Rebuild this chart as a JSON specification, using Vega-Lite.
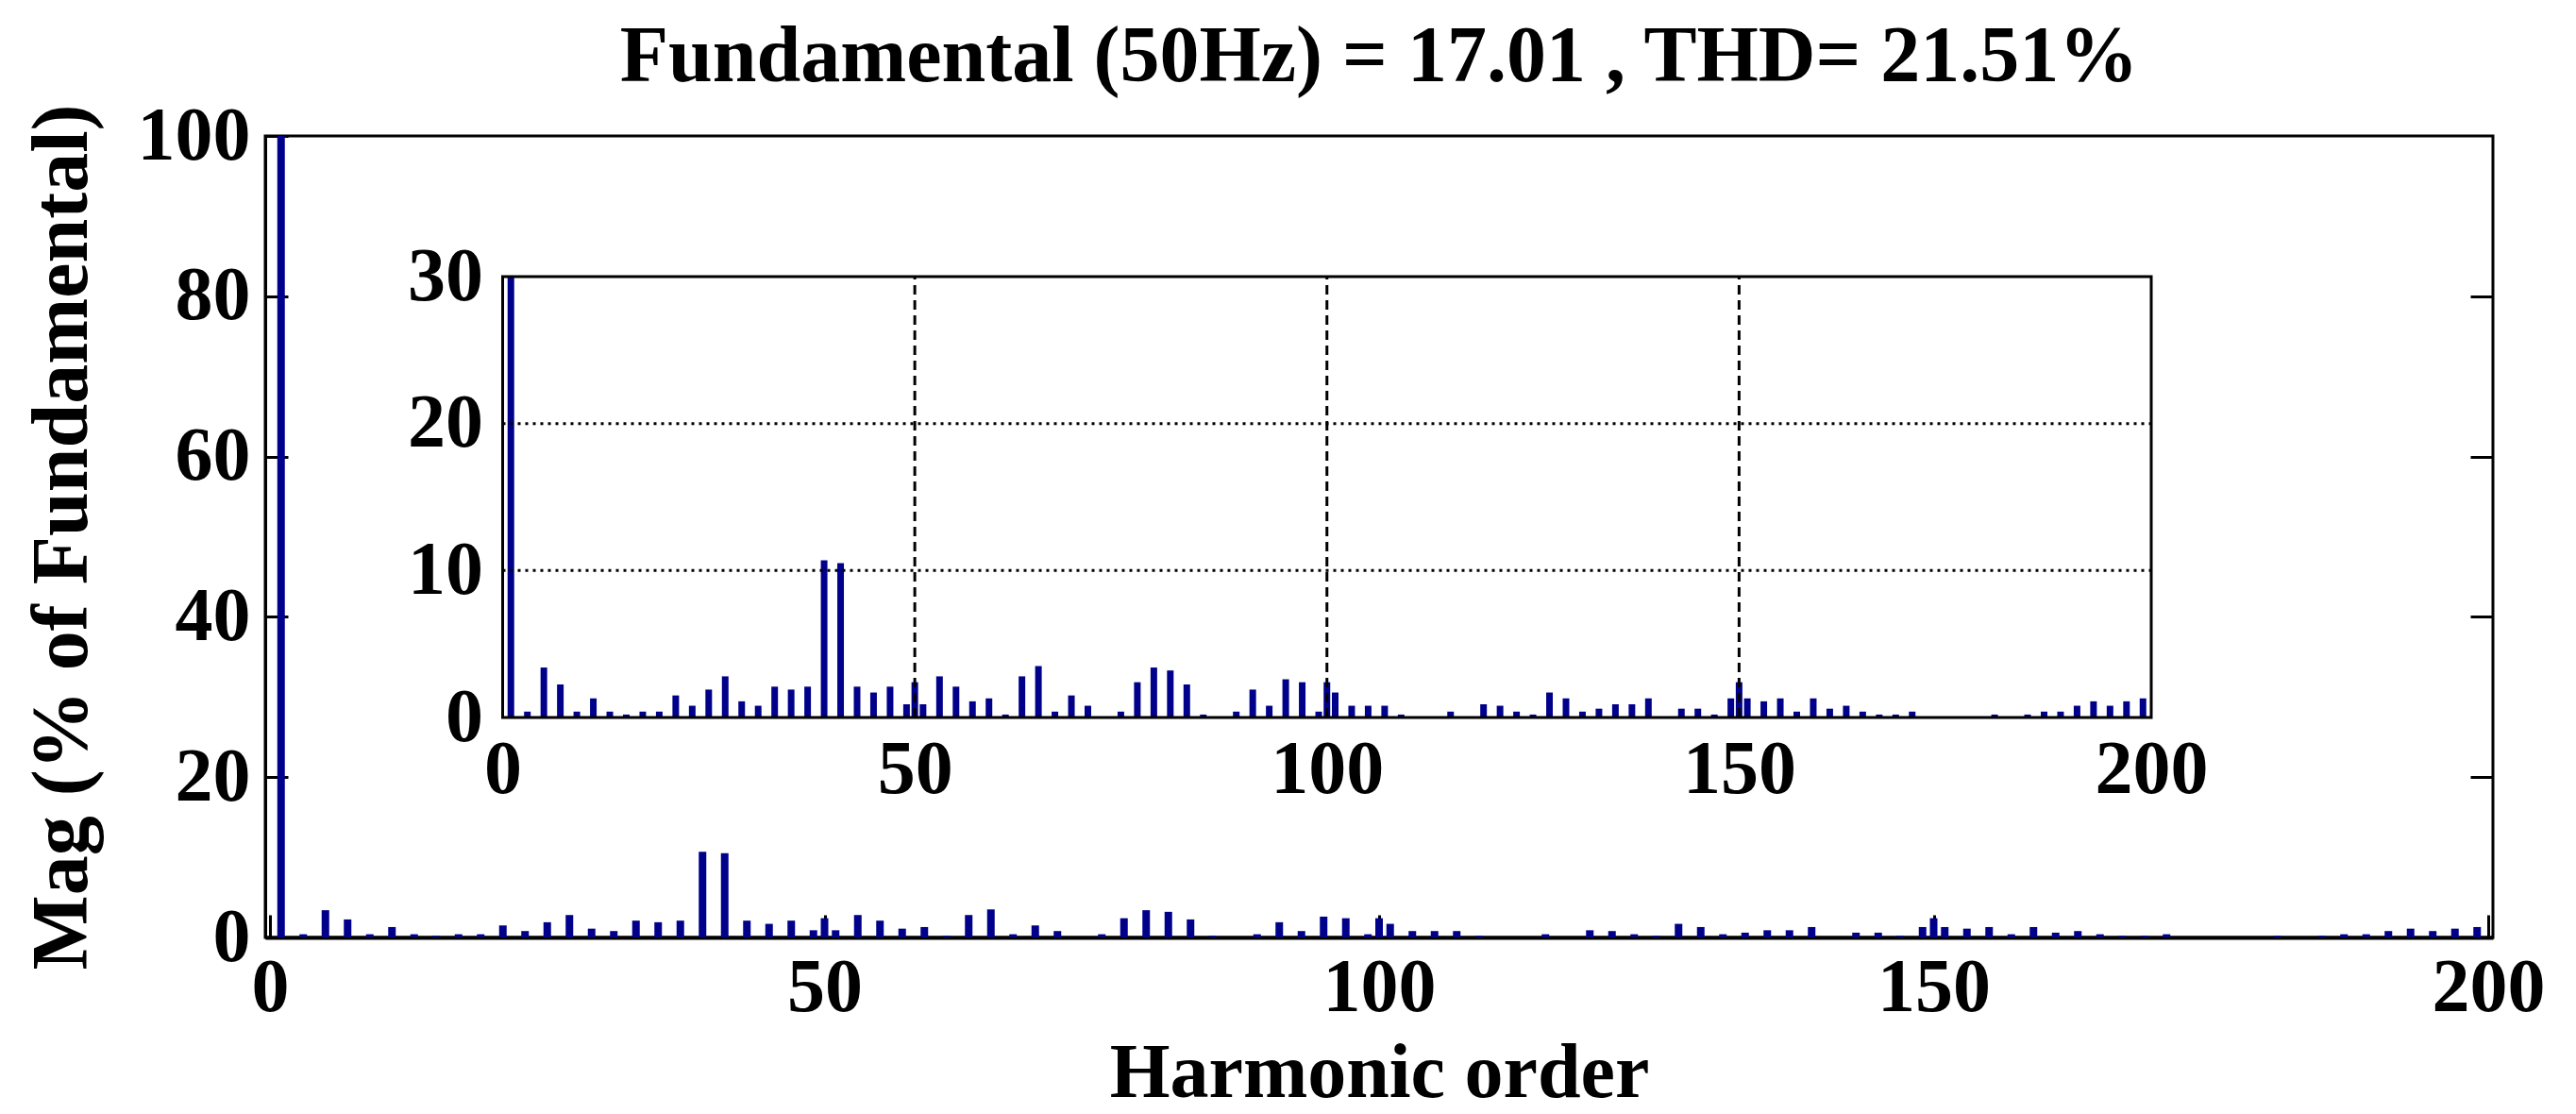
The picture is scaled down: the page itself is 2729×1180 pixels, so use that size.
{
  "$schema": "https://vega.github.io/schema/vega-lite/v6.json",
  "width": 2360,
  "height": 849,
  "autosize": "none",
  "padding": {"left": 281, "top": 144, "right": 88, "bottom": 187},
  "background": "white",
  "title": {"text": "Fundamental (50Hz) = 17.01 , THD= 21.51%", "font": "Liberation Serif", "fontSize": 84, "fontWeight": "bold", "color": "black", "anchor": "middle", "frame": "group", "baseline": "alphabetic", "offset": -66},
  "config": {"view": {"stroke": "black", "strokeWidth": 3}},
  "datasets": {
    "harm": [
      {"h": 1, "mag": 100}, {"h": 3, "mag": 0.4}, {"h": 5, "mag": 3.4}, {"h": 7, "mag": 2.25}, {"h": 9, "mag": 0.4},
      {"h": 11, "mag": 1.3}, {"h": 13, "mag": 0.4}, {"h": 15, "mag": 0.2}, {"h": 17, "mag": 0.4}, {"h": 19, "mag": 0.4},
      {"h": 21, "mag": 1.5}, {"h": 23, "mag": 0.8}, {"h": 25, "mag": 1.9}, {"h": 27, "mag": 2.8}, {"h": 29, "mag": 1.1},
      {"h": 31, "mag": 0.8}, {"h": 33, "mag": 2.1}, {"h": 35, "mag": 1.9}, {"h": 37, "mag": 2.1}, {"h": 39, "mag": 10.7},
      {"h": 41, "mag": 10.5}, {"h": 43, "mag": 2.1}, {"h": 45, "mag": 1.7}, {"h": 47, "mag": 2.1}, {"h": 49, "mag": 0.9},
      {"h": 50, "mag": 2.4}, {"h": 51, "mag": 0.9}, {"h": 53, "mag": 2.8}, {"h": 55, "mag": 2.1}, {"h": 57, "mag": 1.1},
      {"h": 59, "mag": 1.3}, {"h": 61, "mag": 0.2}, {"h": 63, "mag": 2.8}, {"h": 65, "mag": 3.5}, {"h": 67, "mag": 0.4},
      {"h": 69, "mag": 1.5}, {"h": 71, "mag": 0.8}, {"h": 75, "mag": 0.4}, {"h": 77, "mag": 2.4}, {"h": 79, "mag": 3.4},
      {"h": 81, "mag": 3.2}, {"h": 83, "mag": 2.25}, {"h": 85, "mag": 0.2}, {"h": 89, "mag": 0.4}, {"h": 91, "mag": 1.9},
      {"h": 93, "mag": 0.8}, {"h": 95, "mag": 2.6}, {"h": 97, "mag": 2.4}, {"h": 99, "mag": 0.4}, {"h": 100, "mag": 2.4},
      {"h": 101, "mag": 1.7}, {"h": 103, "mag": 0.8}, {"h": 105, "mag": 0.8}, {"h": 107, "mag": 0.8}, {"h": 109, "mag": 0.2},
      {"h": 115, "mag": 0.4}, {"h": 119, "mag": 0.9}, {"h": 121, "mag": 0.8}, {"h": 123, "mag": 0.4}, {"h": 125, "mag": 0.2},
      {"h": 127, "mag": 1.7}, {"h": 129, "mag": 1.3}, {"h": 131, "mag": 0.4}, {"h": 133, "mag": 0.6}, {"h": 135, "mag": 0.9},
      {"h": 137, "mag": 0.9}, {"h": 139, "mag": 1.3}, {"h": 143, "mag": 0.6}, {"h": 145, "mag": 0.6}, {"h": 147, "mag": 0.2},
      {"h": 149, "mag": 1.3}, {"h": 150, "mag": 2.4}, {"h": 151, "mag": 1.3}, {"h": 153, "mag": 1.1}, {"h": 155, "mag": 1.3},
      {"h": 157, "mag": 0.4}, {"h": 159, "mag": 1.3}, {"h": 161, "mag": 0.6}, {"h": 163, "mag": 0.8}, {"h": 165, "mag": 0.4},
      {"h": 167, "mag": 0.2}, {"h": 169, "mag": 0.2}, {"h": 171, "mag": 0.4}, {"h": 181, "mag": 0.2}, {"h": 185, "mag": 0.2},
      {"h": 187, "mag": 0.4}, {"h": 189, "mag": 0.4}, {"h": 191, "mag": 0.8}, {"h": 193, "mag": 1.1}, {"h": 195, "mag": 0.8},
      {"h": 197, "mag": 1.1}, {"h": 199, "mag": 1.3}
    ],
    "box": [{"x0": 0, "x1": 200, "y0": 0, "y1": 30}],
    "gridx": [{"gx": 50}, {"gx": 100}, {"gx": 150}],
    "gridy": [{"gy": 10}, {"gy": 20}]
  },
  "resolve": {"scale": {"x": "independent", "y": "independent"}, "axis": {"x": "independent", "y": "independent"}},
  "layer": [
    {
      "data": {"name": "harm"},
      "mark": {"type": "bar", "width": 8, "color": "#00008B"},
      "encoding": {
        "x": {"field": "h", "type": "quantitative", "scale": {"domain": [0, 200], "nice": false},
          "axis": {"orient": "bottom", "title": "Harmonic order", "values": [0, 50, 100, 150, 200], "tickSize": -24, "tickWidth": 3, "tickColor": "black", "domain": true, "domainColor": "black", "domainWidth": 4, "grid": false, "labelFlush": false,
            "labelFont": "Liberation Serif", "labelFontWeight": "bold", "labelFontSize": 80, "labelColor": "black", "labelPadding": 38,
            "titleFont": "Liberation Serif", "titleFontWeight": "bold", "titleFontSize": 82, "titleColor": "black", "titlePadding": 10}},
        "y": {"field": "mag", "type": "quantitative", "scale": {"domain": [0, 100], "nice": false},
          "axis": {"orient": "left", "title": "Mag (% of Fundamental)", "values": [0, 20, 40, 60, 80, 100], "tickSize": -24, "tickWidth": 3, "tickColor": "black", "domain": true, "domainColor": "black", "domainWidth": 3, "grid": false, "labelFlush": false,
            "labelFont": "Liberation Serif", "labelFontWeight": "bold", "labelFontSize": 80, "labelColor": "black", "labelPadding": 40,
            "titleFont": "Liberation Serif", "titleFontWeight": "bold", "titleFontSize": 84, "titleColor": "black", "titlePadding": 36}}
      }
    },
    {
      "data": {"name": "harm"},
      "mark": {"type": "bar", "width": 1, "opacity": 0},
      "encoding": {
        "x": {"field": "h", "type": "quantitative", "scale": {"domain": [0, 200], "nice": false}, "axis": null},
        "y": {"field": "mag", "type": "quantitative", "scale": {"domain": [0, 100], "nice": false},
          "axis": {"orient": "right", "title": null, "values": [20, 40, 60, 80], "labels": false, "tickSize": -24, "tickWidth": 3, "tickColor": "black", "domain": false, "grid": false}}
      }
    },
    {
      "layer": [
        {
          "data": {"name": "box"},
          "mark": {"type": "rect", "fill": "white"},
          "encoding": {
            "x": {"field": "x0", "type": "quantitative", "scale": {"domain": [0, 200], "range": [246.5, 2003], "nice": false},
              "axis": {"orient": "bottom", "offset": -233, "title": null, "values": [0, 50, 100, 150, 200], "ticks": false, "domain": false, "grid": false, "labelFlush": false,
                "labelFont": "Liberation Serif", "labelFontWeight": "bold", "labelFontSize": 80, "labelColor": "black", "labelPadding": 16}},
            "x2": {"field": "x1"},
            "y": {"field": "y0", "type": "quantitative", "scale": {"domain": [0, 30], "range": [616, 149], "nice": false, "clamp": true},
              "axis": {"orient": "left", "offset": -246.5, "title": null, "values": [0, 10, 20, 30], "ticks": false, "domain": false, "grid": false, "labelFlush": false,
                "labelFont": "Liberation Serif", "labelFontWeight": "bold", "labelFontSize": 80, "labelColor": "black", "labelPadding": 16}},
            "y2": {"field": "y1"}
          }
        },
        {
          "data": {"name": "harm"},
          "mark": {"type": "bar", "width": 7, "color": "#00008B"},
          "encoding": {
            "x": {"field": "h", "type": "quantitative", "scale": {"domain": [0, 200], "range": [246.5, 2003], "nice": false}},
            "y": {"field": "mag", "type": "quantitative", "scale": {"domain": [0, 30], "range": [616, 149], "nice": false, "clamp": true}}
          }
        },
        {
          "data": {"name": "gridx"},
          "mark": {"type": "rule", "color": "black", "strokeWidth": 3, "strokeDash": [10, 6]},
          "encoding": {
            "x": {"field": "gx", "type": "quantitative", "scale": {"domain": [0, 200], "range": [246.5, 2003], "nice": false}},
            "y": {"datum": 0, "type": "quantitative", "scale": {"domain": [0, 30], "range": [616, 149], "nice": false, "clamp": true}},
            "y2": {"datum": 30}
          }
        },
        {
          "data": {"name": "gridy"},
          "mark": {"type": "rule", "color": "black", "strokeWidth": 3, "strokeDash": [3, 5]},
          "encoding": {
            "x": {"datum": 0, "type": "quantitative", "scale": {"domain": [0, 200], "range": [246.5, 2003], "nice": false}},
            "x2": {"datum": 200},
            "y": {"field": "gy", "type": "quantitative", "scale": {"domain": [0, 30], "range": [616, 149], "nice": false, "clamp": true}}
          }
        },
        {
          "data": {"name": "box"},
          "mark": {"type": "rect", "fill": null, "fillOpacity": 0, "stroke": "black", "strokeWidth": 3},
          "encoding": {
            "x": {"field": "x0", "type": "quantitative", "scale": {"domain": [0, 200], "range": [246.5, 2003], "nice": false}},
            "x2": {"field": "x1"},
            "y": {"field": "y0", "type": "quantitative", "scale": {"domain": [0, 30], "range": [616, 149], "nice": false, "clamp": true}},
            "y2": {"field": "y1"}
          }
        }
      ]
    }
  ]
}
